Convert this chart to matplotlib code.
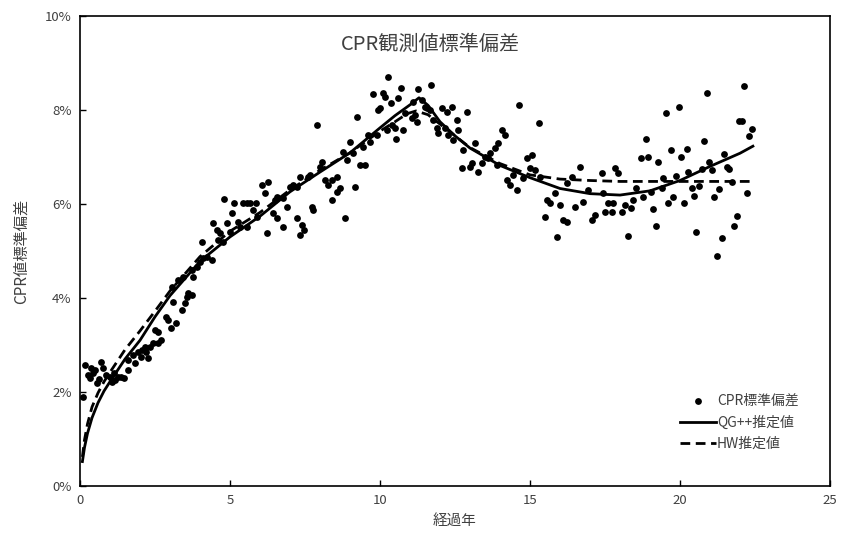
import matplotlib
matplotlib.use('Agg')
import matplotlib.pyplot as plt
from matplotlib.ticker import FuncFormatter

plt.rcParams['font.family'] = ['Noto Sans CJK JP', 'DejaVu Sans']

# 観測値 (経過年, CPR標準偏差 %)
obs_x = [0.10, 0.17, 0.27, 0.33, 0.37, 0.43, 0.50, 0.57, 0.63, 0.70, 0.77, 0.87,
         1.00, 1.07, 1.13, 1.17, 1.27, 1.37, 1.47, 1.60, 1.60, 1.77, 1.83, 1.93,
         2.03, 2.07, 2.17, 2.20, 2.27, 2.33, 2.43, 2.50, 2.60, 2.60, 2.70, 2.87,
         2.93, 3.03, 3.07, 3.10, 3.20, 3.27, 3.40, 3.43, 3.50, 3.57, 3.60, 3.73,
         3.73, 3.77, 3.90, 4.00, 4.07, 4.10, 4.23, 4.40, 4.43, 4.57, 4.60, 4.67,
         4.77, 4.80, 4.90, 5.00, 5.07, 5.13, 5.27, 5.33, 5.43, 5.57, 5.57, 5.67,
         5.77, 5.87, 5.90, 6.07, 6.17, 6.23, 6.27, 6.43, 6.50, 6.57, 6.57, 6.77,
         6.77, 6.90, 7.00, 7.10, 7.23, 7.23, 7.33, 7.33, 7.40, 7.48, 7.60, 7.67,
         7.73, 7.77, 7.90, 8.00, 8.07, 8.17, 8.27, 8.40, 8.40, 8.57, 8.57, 8.67,
         8.77, 8.83, 8.90, 9.00, 9.10, 9.17, 9.23, 9.33, 9.43, 9.50, 9.60, 9.67,
         9.77, 9.90, 9.93, 10.00, 10.10, 10.17, 10.23, 10.27, 10.37, 10.40, 10.50, 10.53,
         10.60, 10.70, 10.77, 10.83, 11.07, 11.10, 11.17, 11.23, 11.27, 11.40, 11.50, 11.57,
         11.67, 11.70, 11.77, 11.90, 11.93, 12.07, 12.17, 12.23, 12.27, 12.40, 12.43, 12.57,
         12.60, 12.73, 12.77, 12.90, 13.00, 13.07, 13.17, 13.27, 13.40, 13.50, 13.60, 13.67,
         13.83, 13.90, 13.93, 14.07, 14.17, 14.23, 14.33, 14.43, 14.57, 14.63, 14.77, 14.90,
         15.00, 15.07, 15.17, 15.30, 15.33, 15.50, 15.57, 15.67, 15.83, 15.90, 16.00, 16.10,
         16.23, 16.23, 16.40, 16.50, 16.67, 16.77, 16.93, 17.07, 17.17, 17.40, 17.43, 17.50,
         17.60, 17.73, 17.77, 17.83, 17.93, 18.07, 18.17, 18.27, 18.37, 18.43, 18.53, 18.70,
         18.77, 18.87, 18.93, 19.03, 19.10, 19.20, 19.27, 19.40, 19.43, 19.53, 19.60, 19.70,
         19.77, 19.87, 19.97, 20.03, 20.13, 20.23, 20.27, 20.40, 20.47, 20.53, 20.63, 20.73,
         20.80, 20.90, 20.97, 21.07, 21.13, 21.23, 21.30, 21.40, 21.47, 21.57, 21.63, 21.73,
         21.80, 21.90, 21.97, 22.07, 22.13, 22.23, 22.30, 22.40]
obs_y = [1.89, 2.57, 2.36, 2.30, 2.51, 2.40, 2.47, 2.19, 2.28, 2.64, 2.51, 2.36,
         2.32, 2.22, 2.40, 2.26, 2.32, 2.32, 2.30, 2.47, 2.68, 2.79, 2.62, 2.85,
         2.74, 2.90, 2.96, 2.85, 2.72, 2.96, 3.04, 3.32, 3.04, 3.28, 3.10, 3.60,
         3.53, 3.36, 4.23, 3.91, 3.47, 4.38, 3.74, 4.45, 3.89, 4.02, 4.10, 4.06,
         4.60, 4.45, 4.66, 4.77, 5.19, 4.85, 4.87, 4.81, 5.60, 5.45, 5.23, 5.38,
         5.19, 6.11, 5.60, 5.40, 5.81, 6.02, 5.62, 5.51, 6.02, 6.02, 5.51, 6.02,
         5.87, 6.02, 5.72, 6.40, 6.23, 5.38, 6.47, 5.81, 6.09, 6.15, 5.70, 5.51,
         6.13, 5.94, 6.36, 6.40, 6.36, 5.70, 6.57, 5.34, 5.55, 5.45, 6.57, 6.62,
         5.94, 5.87, 7.68, 6.79, 6.89, 6.51, 6.40, 6.51, 6.09, 6.57, 6.26, 6.34,
         7.11, 5.70, 6.94, 7.32, 7.09, 6.36, 7.85, 6.83, 7.21, 6.83, 7.47, 7.32,
         8.34, 7.47, 8.00, 8.04, 8.36, 8.28, 7.57, 8.70, 8.15, 7.68, 7.62, 7.38,
         8.26, 8.47, 7.57, 7.94, 7.83, 8.17, 7.89, 7.74, 8.45, 8.21, 8.06, 8.04,
         8.00, 8.53, 7.79, 7.62, 7.51, 8.04, 7.62, 7.96, 7.47, 8.06, 7.36, 7.79,
         7.57, 6.77, 7.15, 7.96, 6.79, 6.87, 7.30, 6.68, 6.87, 7.00, 6.98, 7.09,
         7.19, 6.83, 7.30, 7.57, 7.47, 6.51, 6.40, 6.62, 6.30, 8.11, 6.55, 6.98,
         6.77, 7.04, 6.72, 7.72, 6.57, 5.72, 6.09, 6.02, 6.23, 5.30, 5.98, 5.66,
         5.62, 6.45, 6.57, 5.94, 6.79, 6.04, 6.30, 5.66, 5.77, 6.66, 6.23, 5.83,
         6.02, 5.83, 6.02, 6.77, 6.66, 5.83, 5.98, 5.32, 5.91, 6.09, 6.34, 6.98,
         6.15, 7.38, 7.00, 6.26, 5.89, 5.53, 6.89, 6.34, 6.55, 7.94, 6.02, 7.15,
         6.15, 6.60, 8.06, 7.00, 6.02, 7.17, 6.68, 6.34, 6.17, 5.40, 6.38, 6.74,
         7.34, 8.36, 6.89, 6.72, 6.15, 4.89, 6.32, 5.28, 7.06, 6.79, 6.74, 6.47,
         5.53, 5.74, 7.77, 7.77, 8.51, 6.23, 7.45, 7.60]

# QG++推定値
qg_x = [0.08, 0.15, 0.25, 0.4, 0.6, 0.8, 1.0, 1.5, 2.0, 2.5, 3.0, 4.0, 5.0, 6.0,
        7.0, 8.0, 9.0, 10.0, 10.5, 11.0, 11.3, 11.6, 12.0, 12.5, 13.0, 14.0, 15.0,
        16.0, 17.0, 18.0, 19.0, 20.0, 21.0, 22.0, 22.43]
qg_y = [0.52, 0.82, 1.12, 1.45, 1.77, 2.02, 2.22, 2.70, 3.10, 3.60, 4.05, 4.78,
        5.30, 5.74, 6.26, 6.68, 7.09, 7.62, 7.88, 8.11, 8.26, 8.10, 7.75, 7.45,
        7.19, 6.82, 6.56, 6.33, 6.22, 6.19, 6.28, 6.50, 6.80, 7.08, 7.23]

# HW推定値
hw_x = [0.08, 0.15, 0.25, 0.4, 0.6, 0.8, 1.0, 1.5, 2.0, 2.5, 3.0, 4.0, 5.0, 6.0,
        7.0, 8.0, 9.0, 10.0, 10.5, 10.9, 11.2, 11.6, 12.0, 13.0, 14.0, 15.0, 16.0,
        17.0, 18.0, 19.0, 20.0, 21.0, 22.0, 22.43]
hw_y = [0.62, 0.98, 1.32, 1.68, 1.98, 2.22, 2.42, 2.90, 3.30, 3.72, 4.15, 4.88,
        5.42, 5.82, 6.30, 6.72, 7.09, 7.55, 7.75, 7.92, 7.98, 7.90, 7.70, 7.20,
        6.86, 6.62, 6.53, 6.50, 6.48, 6.48, 6.48, 6.48, 6.48, 6.48]

txt = '#404040'

fig = plt.figure(figsize=(8.45, 5.41), dpi=100)
ax = fig.add_axes([80 / 845, 1 - 486 / 541, 750 / 845, 470 / 541])

ax.scatter(obs_x, obs_y, s=24, color='black', linewidths=0, label='CPR標準偏差', zorder=3)
ax.plot(qg_x, qg_y, color='black', lw=2.0, label='QG++推定値', zorder=4)
ax.plot(hw_x, hw_y, color='black', lw=2.0, ls=(0, (3.5, 2)), label='HW推定値', zorder=4)

ax.set_xlim(0, 25)
ax.set_ylim(0, 10)
ax.set_xticks([0, 5, 10, 15, 20, 25])
ax.set_yticks([0, 2, 4, 6, 8, 10])
ax.yaxis.set_major_formatter(FuncFormatter(lambda v, p: f'{v:.0f}%'))
ax.tick_params(direction='in', length=4, width=1, colors='black', labelcolor=txt,
               labelsize=9.5, pad=6)
for sp in ax.spines.values():
    sp.set_linewidth(1.2)

ax.set_xlabel('経過年', fontsize=10.5, color=txt, labelpad=5)
ax.set_ylabel('CPR値標準偏差', fontsize=11, color=txt, labelpad=11)
ax.text(0.467, 0.94, 'CPR観測値標準偏差', transform=ax.transAxes, ha='center',
        va='center', fontsize=14.5, color=txt)

leg = ax.legend(loc='upper left', bbox_to_anchor=(674 / 845, 1 - 388 / 541),
                bbox_transform=fig.transFigure, frameon=False, fontsize=10,
                handlelength=2.6, handletextpad=0.1, labelspacing=0.55,
                borderaxespad=0)
for t in leg.get_texts():
    t.set_color(txt)

fig.savefig('out.png', dpi=100)
